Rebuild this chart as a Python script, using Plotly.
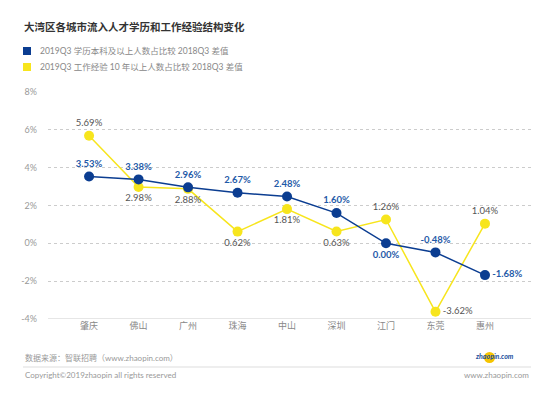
import plotly.graph_objects as go

cities = ["肇庆", "佛山", "广州", "珠海", "中山", "深圳", "江门", "东莞", "惠州"]
edu_diff = [3.53, 3.38, 2.96, 2.67, 2.48, 1.60, 0.00, -0.48, -1.68]
exp_diff = [5.69, 2.98, 2.88, 0.62, 1.81, 0.63, 1.26, -3.62, 1.04]
edu_pos = ["top center"] * 6 + ["bottom center", "top center", "middle right"]
exp_pos = ["top center"] + ["bottom center"] * 5 + ["top center", "middle right", "top center"]
y_ticks = [-4, -2, 0, 2, 4, 6, 8]
y_tick_labels = ["-4%", "-2%", "0%", "2%", "4%", "6%", "8%"]

title = "大湾区各城市流入人才学历和工作经验结构变化"
legend_edu = "2019Q3 学历本科及以上人数占比较 2018Q3 差值"
legend_exp = "2019Q3 工作经验 10 年以上人数占比较 2018Q3 差值"
source = "数据来源：智联招聘（www.zhaopin.com）"
copyright_txt = "Copyright©2019zhaopin all rights reserved"
site = "www.zhaopin.com"

BLUE = "#0b3d91"
YELLOW = "#f7e51d"
FONT = "Lato, Noto Sans CJK SC, sans-serif"

# the page body has an 8px margin; size/offset the figure to compensate
OFF = 8
W, H = 550 - OFF, 396 - OFF
ml, mr, mt, mb = 48 - OFF, 19, 92 - OFF, 77
pw, ph = W - ml - mr, H - mt - mb

fig = go.Figure()
fig.add_trace(go.Scatter(
    x=cities, y=exp_diff, name=legend_exp, mode="lines+markers+text",
    line=dict(color=YELLOW, width=1.5),
    marker=dict(color=YELLOW, size=10),
    text=[f"{v:.2f}%" for v in exp_diff], textposition=exp_pos,
    textfont=dict(color="#555555", size=9.5, family=FONT),
    showlegend=False, cliponaxis=False,
))
fig.add_trace(go.Scatter(
    x=cities, y=edu_diff, name=legend_edu, mode="lines+markers+text",
    line=dict(color=BLUE, width=1.5),
    marker=dict(color=BLUE, size=10),
    text=[f"<b>{v:.2f}%</b>" for v in edu_diff], textposition=edu_pos,
    textfont=dict(color="#1f5aa8", size=9.5, family=FONT),
    showlegend=False, cliponaxis=False,
))


def px2paper(px, py):
    return (px - OFF - ml) / pw, (H - mb - (py - OFF)) / ph


def note(text, px, py, anchor, size, color):
    x, y = px2paper(px, py)
    return dict(text=text, x=x, y=y, xref="paper", yref="paper", showarrow=False,
                xanchor=anchor, yanchor="middle",
                font=dict(size=size, color=color, family=FONT))


annotations = [
    note(f"<b>{title}</b>", 22, 27, "left", 10.5, "#333333"),
    note(legend_edu, 38, 51, "left", 8.5, "#888888"),
    note(legend_exp, 38, 67, "left", 8.5, "#888888"),
    note(source, 23, 358, "left", 8, "#999999"),
    note(copyright_txt, 23, 375, "left", 8, "#999999"),
    note(site, 531, 375, "right", 8, "#999999"),
    note("<b><i>zhaopin.com</i></b>", 516, 356, "right", 7, "#1a4f9c"),
]


def rect(x0, y0, x1, y1, color, kind="rect"):
    a0, b0 = px2paper(x0, y0)
    a1, b1 = px2paper(x1, y1)
    return dict(type=kind, xref="paper", yref="paper", x0=a0, x1=a1, y0=b0, y1=b1,
                fillcolor=color, line=dict(width=0), layer="below")


shapes = [
    rect(23, 47, 31, 55, BLUE),
    rect(23, 63, 31, 71, YELLOW),
    rect(23, 366.5, 531, 367.5, "#dddddd"),
    rect(484, 352, 495, 363, "#f5c400", kind="circle"),
]

fig.update_layout(
    width=W, height=H,
    margin=dict(l=ml, r=mr, t=mt, b=mb),
    paper_bgcolor="white", plot_bgcolor="white",
    annotations=annotations, shapes=shapes,
    xaxis=dict(range=[-0.83, 8.93], showgrid=False, showline=False, ticks="",
               tickfont=dict(size=9, color="#888888", family=FONT), fixedrange=True),
    yaxis=dict(range=[-4, 8], tickvals=y_ticks, ticktext=y_tick_labels,
               showgrid=True, gridcolor="#cccccc", griddash="dot", gridwidth=1,
               zeroline=False, showline=False, ticks="", ticklabelstandoff=10,
               tickfont=dict(size=9, color="#999999", family=FONT)),
    font=dict(family=FONT),
)
# solid baseline at -4%
fig.add_shape(type="line", xref="paper", yref="y", x0=0, x1=1, y0=-4, y1=-4,
              line=dict(color="#cccccc", width=1))

fig.write_html("out.html")
